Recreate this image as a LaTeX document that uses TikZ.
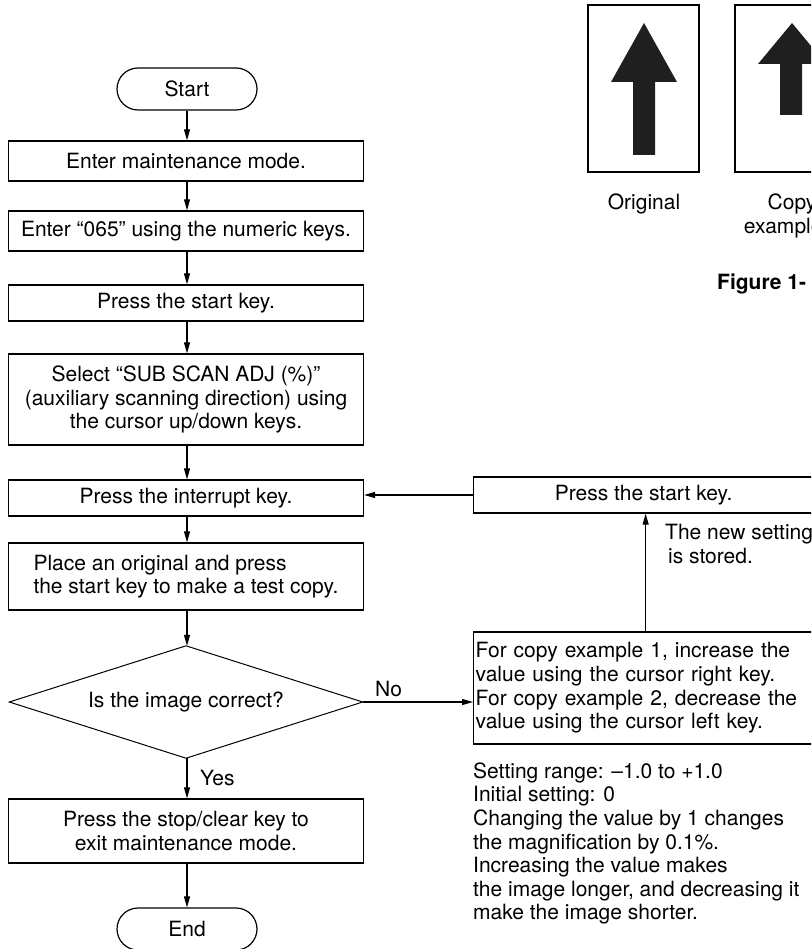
\documentclass[tikz,border=0pt]{standalone}
\usepackage{fontspec}
\setmainfont{TeX Gyre Heros}
\usetikzlibrary{arrows.meta}

\begin{document}
\begin{tikzpicture}[x=1pt,y=-1pt,
  every node/.style={font=\fontsize{21}{23.6}\selectfont, inner sep=0pt},
  stepbox/.style={draw, line width=1.3pt, minimum width=355pt, align=center},
  terminal/.style={draw, line width=1.2pt, rounded corners=21pt, minimum width=140pt, minimum height=42pt},
  decision/.style={minimum width=353pt, minimum height=112pt},
  decisionline/.style={line width=1pt, line join=miter},
  flow/.style={line width=1.1pt, -{Stealth[length=11pt,width=6pt,inset=0pt]}},
  sheet/.style={draw, line width=1.4pt, minimum width=111pt, minimum height=167pt},
  bigarrow/.style={fill=black!88, draw=none}
]
\useasboundingbox (0,0) rectangle (811,949);
\clip (0,0) rectangle (811,949);

% main flow
\node[terminal] (start) at (187,89) {Start};
\node[stepbox, minimum height=40pt] (b1) at (186,161) {Enter maintenance mode.};
\node[stepbox, minimum height=40pt] (b2) at (186,231) {Enter “065” using the numeric keys.};
\node[stepbox, minimum height=36pt] (b3) at (186,303) {Press the start key.};
\node[stepbox, minimum height=91pt] (b4) at (186,399.5) {Select “SUB SCAN ADJ (\%)”\\(auxiliary scanning direction) using\\the cursor up/down keys.};
\node[stepbox, minimum height=36pt] (b5) at (186,498) {Press the interrupt key.};
\node[stepbox, minimum height=67pt, align=left] (b6) at (186,576.5) {Place an original and press\\the start key to make a test copy.};
\node[decision] (dec) at (186,702) {Is the image correct?};
\draw[decisionline] (dec.north) -- (dec.east) -- (dec.south) -- (dec.west) -- cycle;
\node[stepbox, minimum height=64pt] (b7) at (186,831) {Press the stop/clear key to\\exit maintenance mode.};
\node[terminal] (end) at (187,929) {End};

\draw[flow] (start.south) -- (start.south |- b1.north);
\draw[flow] (b1.south -| start) -- (b2.north -| start);
\draw[flow] (b2.south -| start) -- (b3.north -| start);
\draw[flow] (b3.south -| start) -- (b4.north -| start);
\draw[flow] (b4.south -| start) -- (b5.north -| start);
\draw[flow] (b5.south -| start) -- (b6.north -| start);
\draw[flow] (b6.south -| start) -- (dec.north -| start);
\draw[flow] (dec.south -| start) -- (b7.north -| start);
\draw[flow] (b7.south -| start) -- (end.north);
\node[anchor=base west] (yes) at (200,785) {Yes};

% adjustment loop
\node[stepbox, minimum width=340pt, minimum height=36pt, anchor=west] (ps) at (473,495) {Press the start key.};
\node[draw, line width=1.3pt, anchor=west, text width=340pt, inner xsep=2pt, minimum height=112pt, align=left] (fc) at (473,688)
  {For copy example 1, increase the\\value using the cursor right key.\\For copy example 2, decrease the\\value using the cursor left key.};
\draw[flow] (dec.east) -- (dec.east -| fc.west);
\node[anchor=base west] (no) at (375,696) {No};
\draw[flow] (fc.north) -- (fc.north |- ps.south);
\draw[flow] (ps.west) -- (ps.west -| b5.east);
\node[anchor=west, align=left] (stored) at (665,544) {The new setting\\\hspace{3pt}is stored.};
\node[anchor=west, align=left] (note) at (473,843.5)
  {Setting range: –1.0 to +1.0\\Initial setting: 0\\Changing the value by 1 changes\\the magnification by 0.1\%.\\Increasing the value makes\\the image longer, and decreasing it\\make the image shorter.};

% original and copy sheets
\node[sheet] (orig) at (643.5,88.5) {};
\node[sheet] (copy) at (790.5,88.5) {};
\fill[bigarrow] (644,23) -- (677,82) -- (655,82) -- (655,155) -- (633,155) -- (633,82) -- (611,82) -- cycle;
\fill[bigarrow] (792,23) -- (826,64) -- (802,64) -- (802,115) -- (780,115) -- (780,64) -- (758,64) -- cycle;
\node[anchor=base] (origlab) at (644,210) {Original};
\node[align=center] (copylab) at (792,216) {Copy\\example 1};
\node[anchor=base west, font=\fontsize{21}{24}\selectfont\bfseries] (fig) at (717,290) {Figure 1-};
\end{tikzpicture}
\end{document}
